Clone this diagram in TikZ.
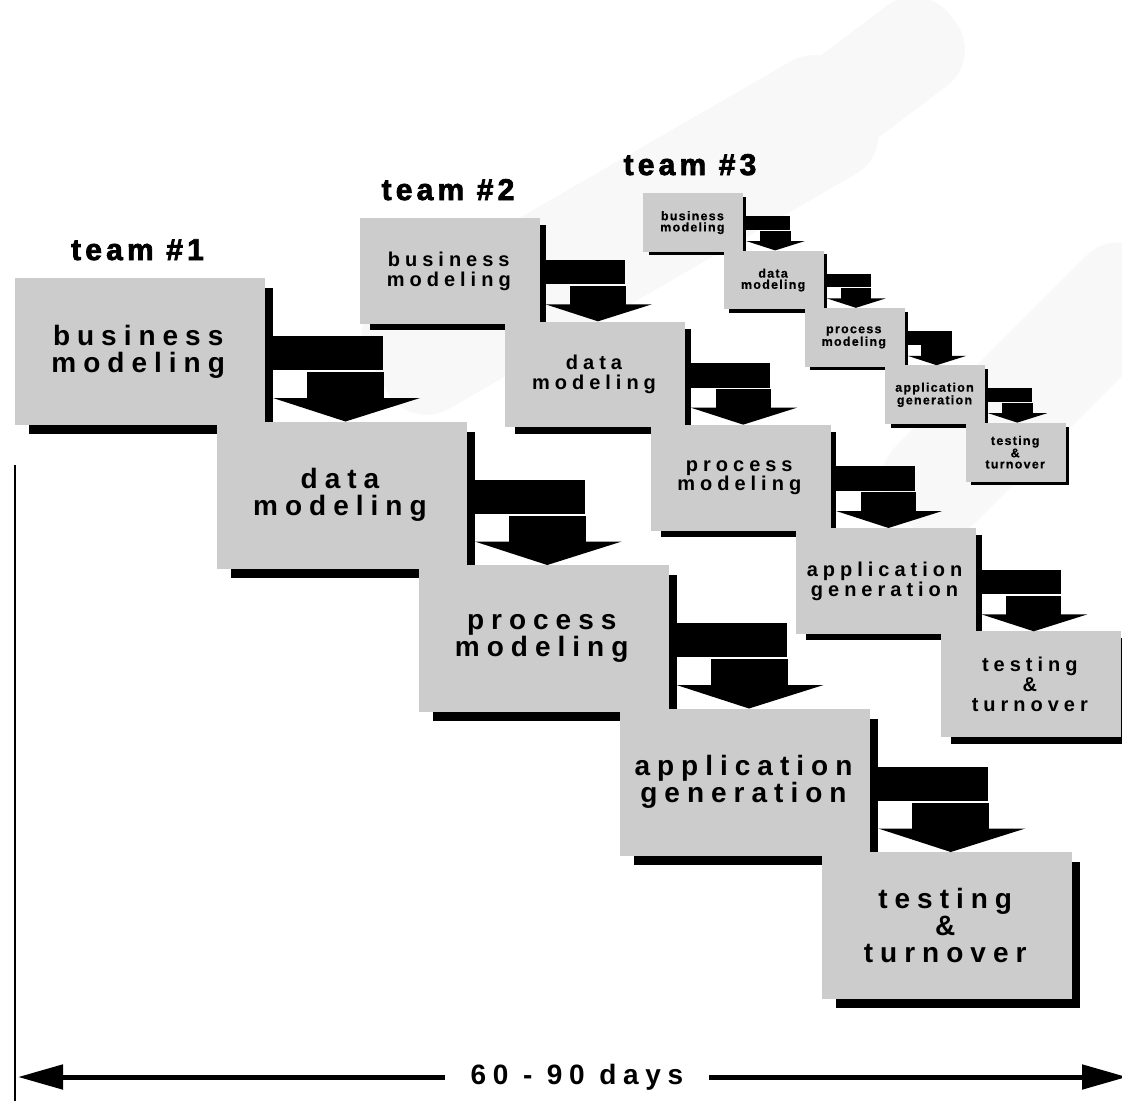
\documentclass[tikz,border=0pt]{standalone}
\usepackage{fontspec}
\setmainfont{Liberation Sans}
\newfontfamily\boxfont{Liberation Sans}[LetterSpace=25]
\newfontfamily\smallboxfont{Liberation Sans}[LetterSpace=10, BoldFeatures={FakeBold=0.6}]
\newfontfamily\teamfont{Liberation Sans}[LetterSpace=14, BoldFeatures={FakeBold=2.5}]
\newfontfamily\daysfont{Liberation Sans}[LetterSpace=24]
\usetikzlibrary{arrows.meta,calc}

\definecolor{boxgray}{RGB}{204,204,204}
\definecolor{wmgray}{RGB}{248,248,248}

\tikzset{
  stepbox/.style={fill=boxgray, anchor=north west, inner sep=0pt, align=center},
  blockarrow/.style={fill=black},
  dropshadow/.style={fill=black},
  teamlabel/.style={anchor=base, inner sep=0pt, font=\teamfont\bfseries\fontsize{30}{30}\selectfont},
  watermark/.style={fill=wmgray, rounded corners=45pt},
  spanline/.style={line width=5pt, -{Triangle[length=45pt,width=24pt]}},
}

% One team's staircase:
% #1 name prefix, #2,#3 top-left corner of the first box, #4 scale,
% #5 font size, #6 line pitch, #7 font switch
\newcommand\staircase[7]{%
  \pgfmathsetmacro\sc{#4}%
  \foreach \lbl [count=\i from 0] in {{business\\modeling},{data\\modeling},{process\\modeling},{application\\generation},{testing\\\&\\turnover}} {
    \pgfmathsetmacro\bx{#2+\i*201.75*\sc}%
    \pgfmathsetmacro\by{#3+\i*143.5*\sc}%
    \fill[dropshadow] (\bx+14*\sc,\by+10*\sc) rectangle (\bx+258*\sc,\by+156*\sc);
    \node[stepbox, minimum width=250*\sc, minimum height=147*\sc] (#1\i) at (\bx,\by) {};
    \node[align=center, inner sep=0pt, font=#7\bfseries\fontsize{#5}{#6}\selectfont]
      at ($(#1\i.center)+(-2*\sc,0)$) {\lbl};
  }
  % bent block arrows leading from each step down to the next one
  \foreach \i [evaluate=\i as \j using int(\i+1)] in {0,...,3} {
    \begin{scope}[shift={(#1\i.north west)}]
      \fill[blockarrow] (258*\sc,58*\sc) rectangle (368*\sc,92*\sc);
      \fill[blockarrow] (292*\sc,94*\sc) rectangle (369*\sc,120.5*\sc);
      \fill[blockarrow] (258*\sc,120*\sc) -- (405*\sc,120*\sc)
        -- ($(#1\j.north west)-(#1\i.north west)+(128.75*\sc,0)$) -- cycle;
    \end{scope}
  }
}

\begin{document}
\begin{tikzpicture}[x=1pt, y=-1pt]
\useasboundingbox (0,0) rectangle (1122,1101);
\fill[white] (0,0) rectangle (1122,1101);

% faint background emblem
\fill[watermark, rotate around={37:(825,115)}] (665,65) rectangle (985,165);
\fill[watermark, rotate around={30:(620,235)}] (340,170) rectangle (900,300);
\fill[watermark, rotate around={45:(1030,390)}] (850,335) rectangle (1210,445);

% three teams working in parallel
\staircase{a}{15}{278}{1}{28}{27.2}{\boxfont}
\staircase{b}{360}{218}{0.72}{20}{19.6}{\boxfont}
\staircase{c}{643}{193}{0.4}{12.5}{11.2}{\smallboxfont}

\node[teamlabel] (team1) at (137.5,260) {team \#1};
\node[teamlabel] (team2) at (448,200) {team \#2};
\node[teamlabel] (team3) at (690,175) {team \#3};

% time axis
\coordinate (axtop) at (15,465);
\coordinate (axbot) at (15,1101);
\draw[line width=2.5pt] (axtop) -- (axbot);

\node[fill=white, inner sep=0pt, minimum width=264, minimum height=30,
      font=\daysfont\bfseries\fontsize{28}{28}\selectfont] (span) at (577,1077) {60 - 90 days};
\coordinate (spanL) at (18,1077);
\coordinate (spanR) at (1127,1077);
\draw[spanline] (span.west) -- (spanL);
\draw[spanline] (span.east) -- (spanR);
\end{tikzpicture}
\end{document}
